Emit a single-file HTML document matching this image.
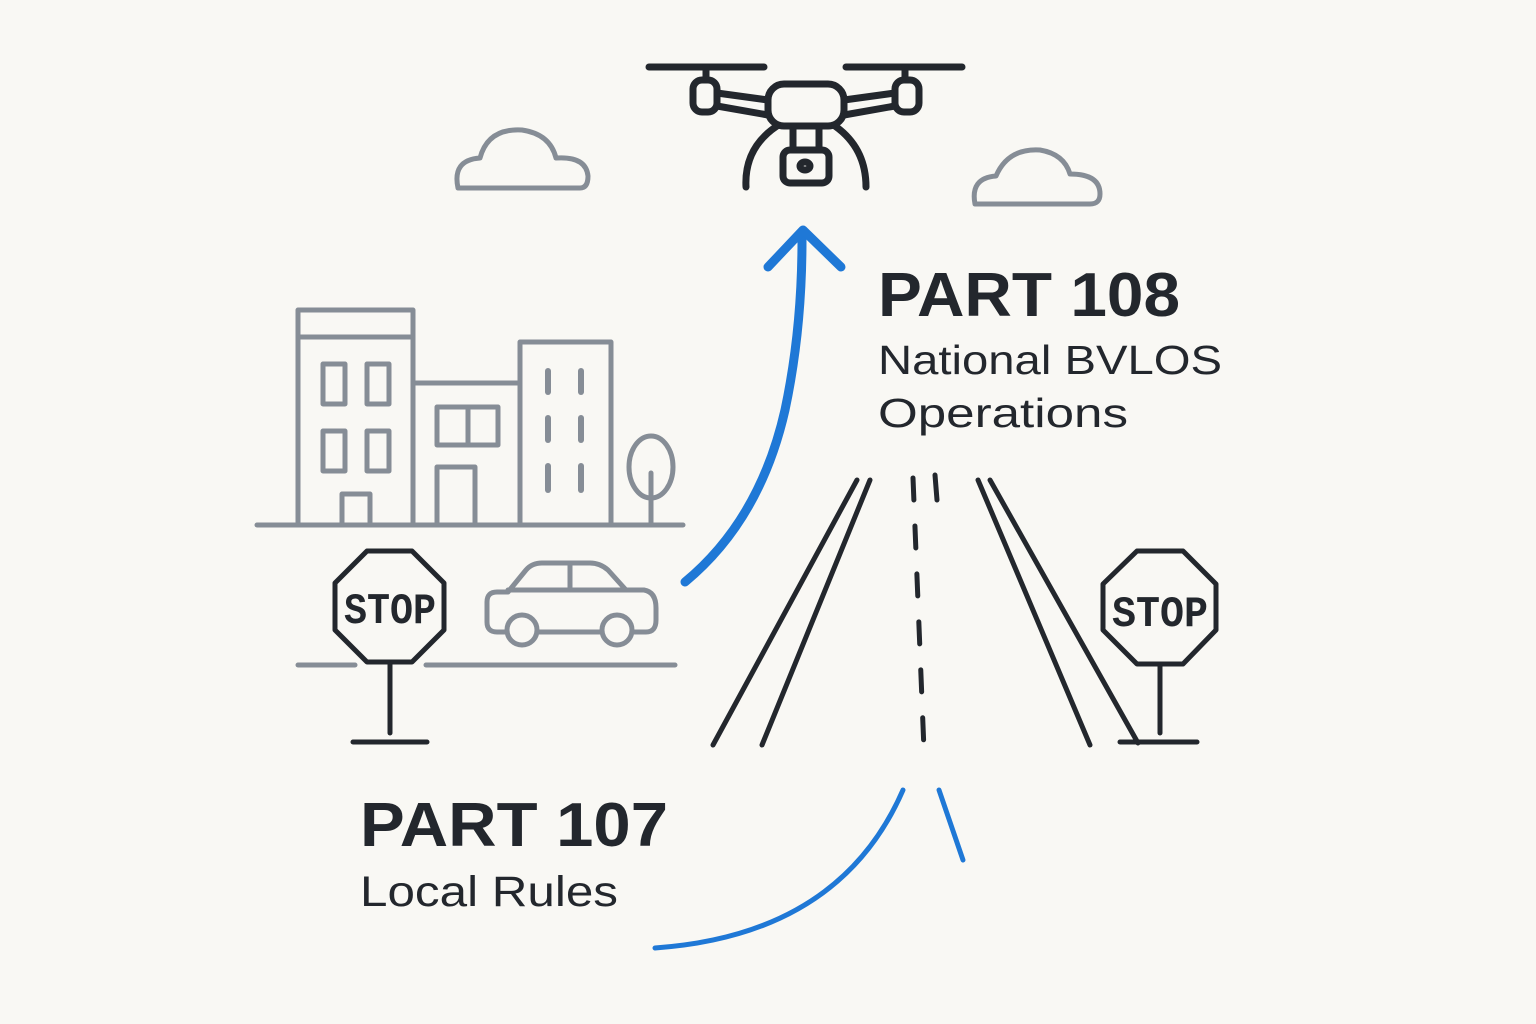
<!DOCTYPE html>
<html><head><style>body{margin:0;background:#f9f8f4}</style></head><body>
<svg width="1536" height="1024" viewBox="0 0 1536 1024" xmlns="http://www.w3.org/2000/svg" style="display:block">
<rect width="1536" height="1024" fill="#f9f8f4"/>
<g fill="none" stroke="#868d96" stroke-width="5" stroke-linecap="round" stroke-linejoin="round">
<path d="M458 188 Q452 160 480 158 Q488 128 522 130 Q550 134 556 158 Q586 156 588 176 Q588 188 580 188 Z"/>
<path d="M975 204 Q970 178 996 176 Q1008 148 1040 150 Q1064 154 1070 174 Q1100 174 1100 194 Q1100 204 1090 204 Z"/>
<line x1="257" y1="525" x2="683" y2="525"/>
<rect x="298" y="310" width="115" height="215"/>
<line x1="298" y1="337" x2="413" y2="337"/>
<rect x="323" y="364" width="22" height="40"/><rect x="367" y="364" width="22" height="40"/>
<rect x="323" y="431" width="22" height="40"/><rect x="367" y="431" width="22" height="40"/>
<path d="M342 525 V494 H370 V525"/>
<path d="M413 383 H520"/>
<rect x="437" y="407" width="61" height="38"/><line x1="468" y1="407" x2="468" y2="445"/>
<path d="M437 525 V467 H475 V525"/>
<rect x="520" y="342" width="91" height="183"/>
<g stroke-width="6"><line x1="548" y1="371" x2="548" y2="392"/><line x1="581" y1="371" x2="581" y2="392"/>
<line x1="548" y1="418" x2="548" y2="440"/><line x1="581" y1="418" x2="581" y2="440"/>
<line x1="548" y1="466" x2="548" y2="490"/><line x1="581" y1="466" x2="581" y2="490"/></g>
<ellipse cx="651" cy="467" rx="22" ry="31"/><line x1="651" y1="473" x2="651" y2="525"/>
<line x1="298" y1="665" x2="355" y2="665"/><line x1="426" y1="665" x2="675" y2="665"/>
<path d="M497 592 H508 L526 570 Q532 563 542 563 H590 Q600 563 608 570 L626 590 H644 Q656 592 656 608 V620 Q656 632 646 632 H634 M601 632 H538 M505 632 H497 Q487 632 487 622 V602 Q487 592 497 592"/>
<line x1="508" y1="590" x2="626" y2="590"/><line x1="570" y1="565" x2="570" y2="590"/>
<circle cx="522" cy="630" r="15"/><circle cx="617" cy="630" r="15"/>
</g>
<g fill="none" stroke="#23272d" stroke-width="5" stroke-linecap="round" stroke-linejoin="round">
<polygon points="367,551 412,551 444,583 444,630 412,662 367,662 335,630 335,583"/>
<line x1="390" y1="664" x2="390" y2="733"/><line x1="353" y1="742" x2="427" y2="742"/>
<polygon points="1137,551 1183,551 1216,584 1216,630 1183,664 1137,664 1103,630 1103,584"/>
<line x1="1160" y1="666" x2="1160" y2="733"/><line x1="1120" y1="742" x2="1197" y2="742"/>
<line x1="857" y1="480" x2="713" y2="745"/><line x1="870" y1="480" x2="762" y2="745"/>
<line x1="978" y1="480" x2="1090" y2="745"/><line x1="990" y1="480" x2="1138" y2="743"/>
<line x1="913" y1="478" x2="924" y2="750" stroke-dasharray="22,26"/>
<line x1="935" y1="475" x2="937" y2="500"/>
</g>
<g fill="none" stroke="#23272d" stroke-width="7" stroke-linecap="round" stroke-linejoin="round">
<line x1="649" y1="67" x2="764" y2="67"/><line x1="846" y1="67" x2="962" y2="67"/>
<line x1="706" y1="67" x2="706" y2="80"/><line x1="905" y1="67" x2="905" y2="80"/>
<rect x="693" y="80" width="24" height="32" rx="9"/><rect x="895" y="80" width="24" height="32" rx="9"/>
<path d="M717 93 L768 100 M717 106 L768 115 M895 93 L844 100 M895 106 L844 115"/>
<rect x="768" y="84" width="76" height="42" rx="16"/>
<rect x="783" y="150" width="46" height="33" rx="7"/><line x1="793" y1="126" x2="793" y2="150"/><line x1="819" y1="126" x2="819" y2="150"/>
<ellipse cx="805" cy="166" rx="5" ry="4"/>
<path d="M777 126 Q744 148 746 187 M835 126 Q866 148 866 187"/>
</g>
<g font-family="Liberation Mono, monospace" font-weight="bold" font-size="44" fill="#23272d" text-anchor="middle">
<text x="390" y="623" textLength="92" lengthAdjust="spacingAndGlyphs">STOP</text>
<text x="1160" y="626" textLength="96" lengthAdjust="spacingAndGlyphs">STOP</text>
</g>
<g fill="none" stroke="#1f78d6" stroke-width="9" stroke-linecap="round" stroke-linejoin="round">
<path d="M685 582 Q760 520 785 410 Q802 330 802 240"/>
<path d="M768 267 L803 230 L841 267"/>
</g>
<g fill="none" stroke="#1f78d6" stroke-width="5" stroke-linecap="round">
<path d="M655 948 Q840 935 903 790"/><line x1="939" y1="790" x2="963" y2="860"/>
</g>
<g font-family="Liberation Sans, sans-serif" fill="#23272d" lengthAdjust="spacingAndGlyphs">
<text x="878" y="316" font-size="62" font-weight="bold" textLength="302" lengthAdjust="spacingAndGlyphs">PART 108</text>
<text x="878" y="374" font-size="41" textLength="344" lengthAdjust="spacingAndGlyphs">National BVLOS</text>
<text x="878" y="427" font-size="41" textLength="250" lengthAdjust="spacingAndGlyphs">Operations</text>
<text x="360" y="846" font-size="62" font-weight="bold" textLength="308" lengthAdjust="spacingAndGlyphs">PART 107</text>
<text x="360" y="906" font-size="43" textLength="258" lengthAdjust="spacingAndGlyphs">Local Rules</text>
</g>
</svg>
</body></html>
